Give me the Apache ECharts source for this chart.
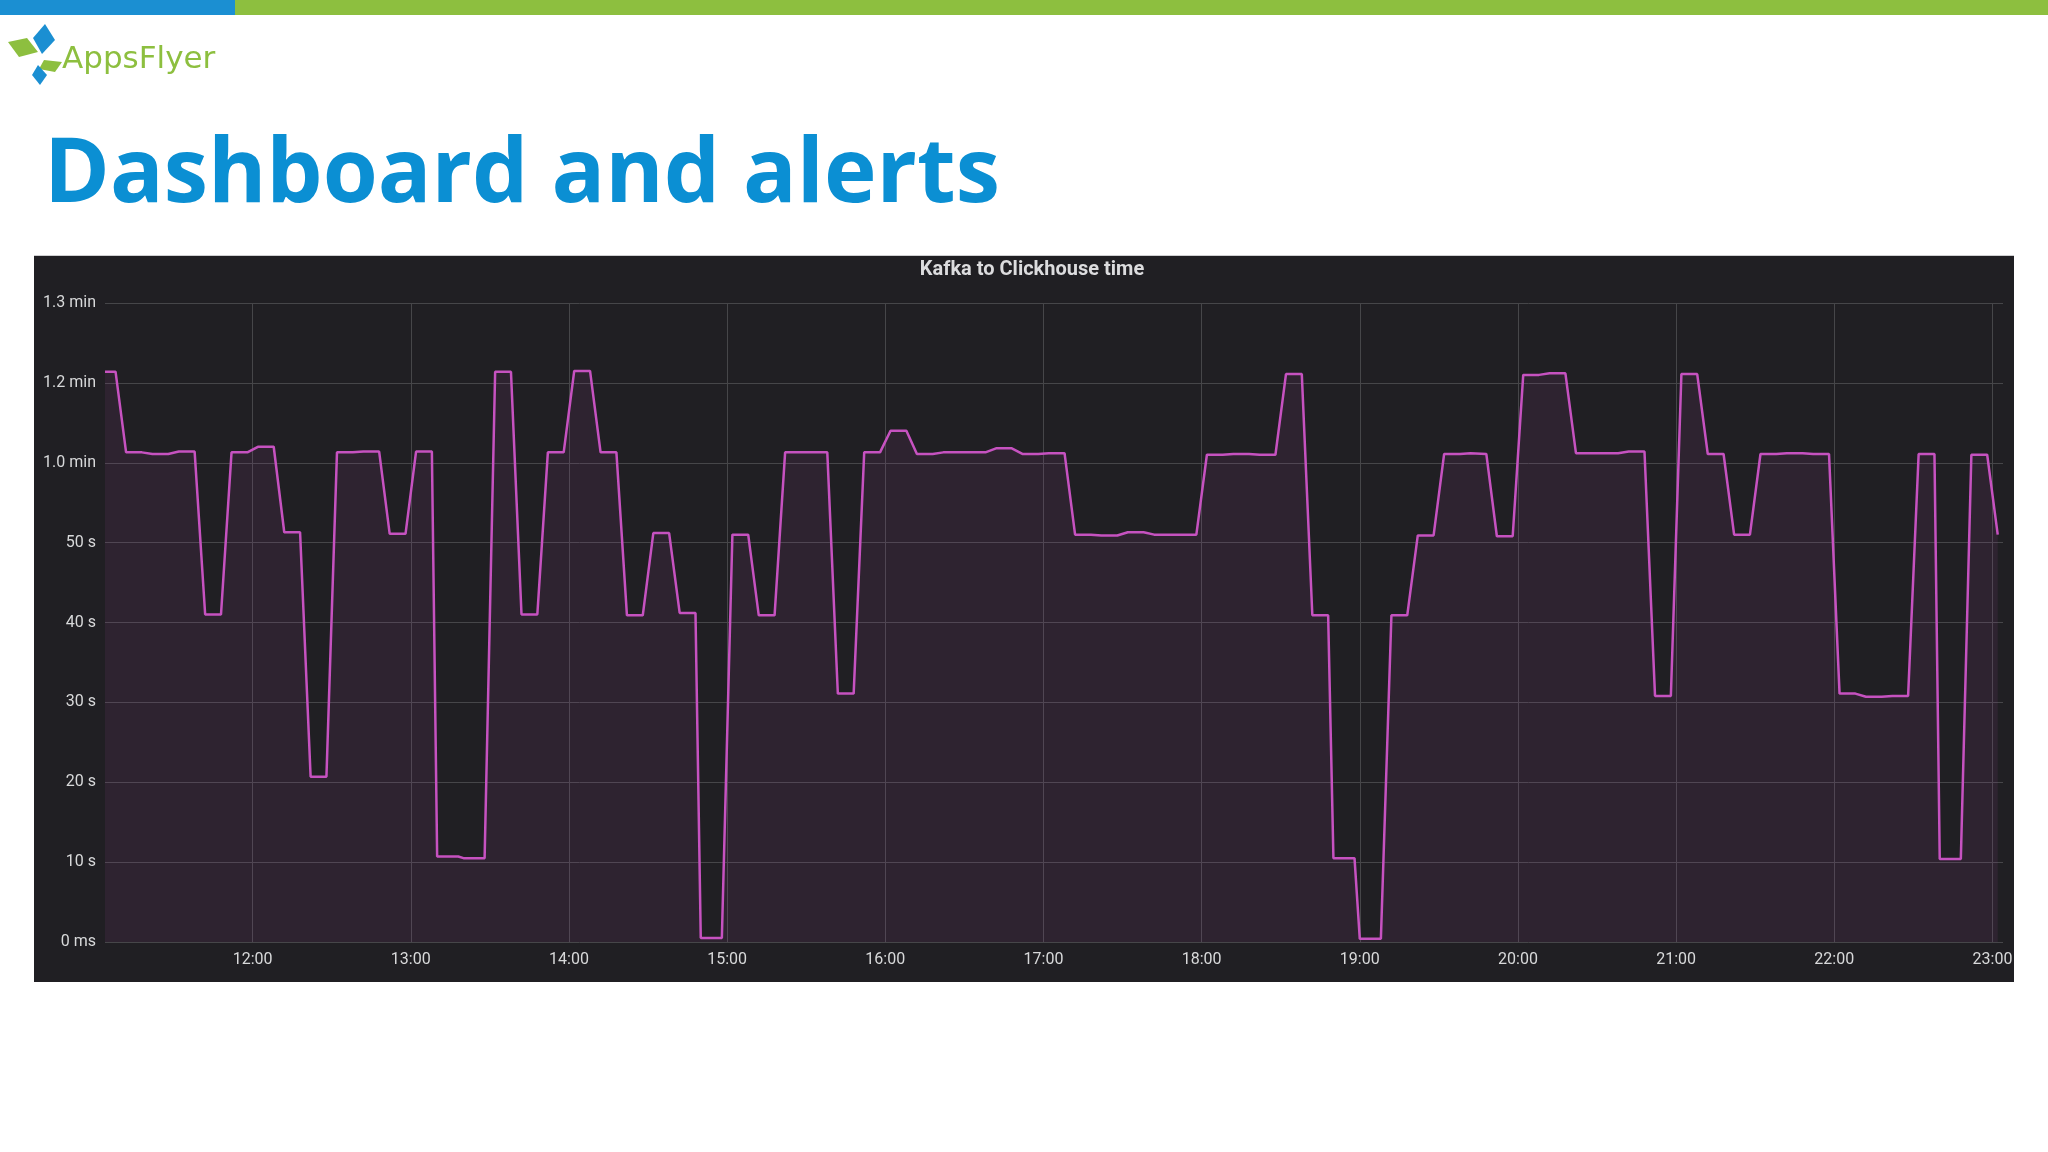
<!DOCTYPE html>
<html>
<head>
<meta charset="utf-8">
<script src="https://cdn.jsdelivr.net/npm/echarts@6/dist/echarts.min.js"></script>
<style>
html,body{margin:0;padding:0;background:#ffffff;}
#chart{width:2048px;height:1152px;}
</style>
</head>
<body>
<div id="chart"></div>
<script>
// ---- data ----
const pageTitle = 'Dashboard and alerts';
const logoText = 'AppsFlyer';
const panelTitle = 'Kafka to Clickhouse time';

const times = [
  '11:04','11:08','11:12','11:18','11:22','11:28','11:32','11:38','11:42','11:48',
  '11:52','11:58','12:02','12:08','12:12','12:18','12:22','12:28','12:32','12:38',
  '12:42','12:48','12:52','12:58','13:02','13:08','13:10','13:18','13:20','13:28',
  '13:32','13:38','13:42','13:48','13:52','13:58','14:02','14:08','14:12','14:18',
  '14:22','14:28','14:32','14:38','14:42','14:48','14:50','14:58','15:02','15:08',
  '15:12','15:18','15:22','15:28','15:32','15:38','15:42','15:48','15:52','15:58',
  '16:02','16:08','16:12','16:18','16:22','16:28','16:32','16:38','16:42','16:48',
  '16:52','16:58','17:02','17:08','17:12','17:18','17:22','17:28','17:32','17:38',
  '17:42','17:48','17:52','17:58','18:02','18:08','18:12','18:18','18:22','18:28',
  '18:32','18:38','18:42','18:48','18:50','18:58','19:00','19:08','19:12','19:18',
  '19:22','19:28','19:32','19:38','19:42','19:48','19:52','19:58','20:02','20:08',
  '20:12','20:18','20:22','20:28','20:32','20:38','20:42','20:48','20:52','20:58',
  '21:02','21:08','21:12','21:18','21:22','21:28','21:32','21:38','21:42','21:48',
  '21:52','21:58','22:02','22:08','22:12','22:18','22:22','22:28','22:32','22:38',
  '22:40','22:48','22:52','22:58','23:02'
];
// seconds
const secs = [
  71.4, 71.4, 61.3, 61.3, 61.1, 61.1, 61.4, 61.4, 41.0, 41.0,
  61.3, 61.3, 62.0, 62.0, 51.3, 51.3, 20.7, 20.7, 61.3, 61.3,
  61.4, 61.4, 51.1, 51.1, 61.4, 61.4, 10.7, 10.7, 10.5, 10.5,
  71.4, 71.4, 41.0, 41.0, 61.3, 61.3, 71.5, 71.5, 61.3, 61.3,
  40.9, 40.9, 51.2, 51.2, 41.2, 41.2, 0.5, 0.5, 51.0, 51.0,
  40.9, 40.9, 61.3, 61.3, 61.3, 61.3, 31.1, 31.1, 61.3, 61.3,
  64.0, 64.0, 61.1, 61.1, 61.3, 61.3, 61.3, 61.3, 61.8, 61.8,
  61.1, 61.1, 61.2, 61.2, 51.0, 51.0, 50.9, 50.9, 51.3, 51.3,
  51.0, 51.0, 51.0, 51.0, 61.0, 61.0, 61.1, 61.1, 61.0, 61.0,
  71.1, 71.1, 40.9, 40.9, 10.5, 10.5, 0.4, 0.4, 40.9, 40.9,
  50.9, 50.9, 61.1, 61.1, 61.2, 61.1, 50.8, 50.8, 71.0, 71.0,
  71.2, 71.2, 61.2, 61.2, 61.2, 61.2, 61.4, 61.4, 30.8, 30.8,
  71.1, 71.1, 61.1, 61.1, 51.0, 51.0, 61.1, 61.1, 61.2, 61.2,
  61.1, 61.1, 31.1, 31.1, 30.7, 30.7, 30.8, 30.8, 61.1, 61.1,
  10.4, 10.4, 61.0, 61.0, 51.0
];

const xTickLabels = ['12:00','13:00','14:00','15:00','16:00','17:00','18:00','19:00','20:00','21:00','22:00','23:00'];
const xRange = ['11:04', '23:04'];
const yTickLabels = ['0 ms','10 s','20 s','30 s','40 s','50 s','1.0 min','1.2 min','1.3 min'];

// ---- helpers ----
function toMin(s){ const p = s.split(':'); return (+p[0])*60 + (+p[1]); }
function fmtMin(v){ const h = Math.floor(v/60), m = Math.round(v%60); return (h<10?'0':'')+h+':'+(m<10?'0':'')+m; }

const seriesData = times.map((t,i)=>[toMin(t), secs[i]]);
const xTicks = xTickLabels.map(toMin);

const chart = echarts.init(document.getElementById('chart'), null, {renderer:'canvas'});

const option = {
  animation: false,
  backgroundColor: '#ffffff',
  textStyle: { fontFamily: 'Roboto, "Noto Sans", sans-serif' },
  grid: { left: 105, right: 45, top: 303, bottom: 210, containLabel: false },
  xAxis: {
    type: 'value',
    min: toMin(xRange[0]),
    max: toMin(xRange[1]),
    axisLine: { show: false },
    axisTick: { show: false, customValues: xTicks },
    axisLabel: {
      customValues: xTicks,
      formatter: v => fmtMin(v),
      color: '#d8d9da', fontSize: 16, margin: 10,
      fontFamily: 'Roboto'
    },
    splitLine: { show: true, lineStyle: { color: '#464649', width: 1 } }
  },
  yAxis: {
    type: 'value',
    min: 0, max: 80, interval: 10,
    axisLine: { show: false },
    axisTick: { show: false },
    axisLabel: {
      formatter: v => yTickLabels[Math.round(v/10)],
      color: '#d8d9da', fontSize: 16, margin: 9,
      fontFamily: 'Roboto'
    },
    splitLine: { show: true, lineStyle: { color: '#464649', width: 1 } }
  },
  series: [{
    type: 'line',
    data: seriesData,
    showSymbol: false,
    clip: true,
    lineStyle: { color: '#c652c0', width: 2.5 },
    itemStyle: { color: '#c652c0' },
    areaStyle: { color: 'rgba(198,82,192,0.12)' },
    z: 3
  }],
  graphic: [
    // top colour bar
    { type: 'rect', z: -20, shape: { x: 0, y: 0, width: 235, height: 15 }, style: { fill: '#1b8fd2' } },
    { type: 'rect', z: -20, shape: { x: 235, y: 0, width: 1813, height: 15 }, style: { fill: '#8dbf3f' } },
    // logo mark
    { type: 'polygon', z: -20, shape: { points: [[8,42],[27,38],[38,52],[19,57]] }, style: { fill: '#8dbf3f' } },
    { type: 'polygon', z: -20, shape: { points: [[45,24],[55,40],[42,54],[33,38]] }, style: { fill: '#1b8fd2' } },
    { type: 'polygon', z: -20, shape: { points: [[44,60],[62,62],[55,72],[39,69]] }, style: { fill: '#8dbf3f' } },
    { type: 'polygon', z: -20, shape: { points: [[38,65],[47,75],[40,85],[32,75]] }, style: { fill: '#1b8fd2' } },
    { type: 'text', z: -20, x: 62, y: 44, style: { text: logoText, fill: '#8dbf3f', font: '31px "DejaVu Sans"', verticalAlign: 'top' } },
    // page title
    { type: 'text', z: -20, x: 44, y: 132, style: { text: pageTitle, fill: '#0b8fd3', font: 'bold 89px "Open Sans"', verticalAlign: 'top' } },
    // dark panel
    { type: 'rect', z: -30, shape: { x: 34, y: 255, width: 1980, height: 727 }, style: { fill: '#201f23' } },
    { type: 'rect', z: -29, shape: { x: 34, y: 255, width: 1980, height: 1 }, style: { fill: '#cfcfd1' } },
    // panel title
    { type: 'text', z: 5, x: 1032, y: 270, style: { text: panelTitle, fill: '#dcdcde', font: 'bold 20px Roboto', align: 'center', verticalAlign: 'middle' } }
  ]
};
chart.setOption(option);
</script>
</body>
</html>
